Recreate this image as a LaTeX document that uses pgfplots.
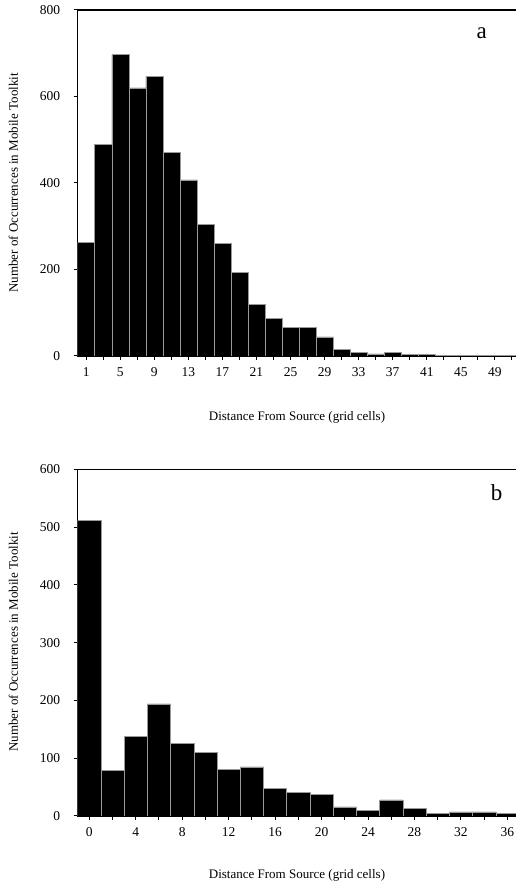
\documentclass[border=0pt]{standalone}
\usepackage{fontspec}
\setmainfont{Liberation Serif}
\usepackage{pgfplots}
\pgfplotsset{compat=1.18}
\pgfplotsset{
  histo/.style={
    scale only axis,
    anchor=south west,
    width=439.3pt,
    ymin=0,
    ybar,
    bar width=2,
    bar shift=0pt,
    axis line style={line width=1.4pt},
    tick align=outside,
    xtick pos=bottom,
    ytick pos=left,
    major tick length=4pt,
    minor tick length=4pt,
    tick style={black, line width=1pt},
    minor tick style={black, line width=1pt},
    /pgf/number format/assume math mode=true,
    /pgf/number format/1000 sep={},
    tick label style={font=\fontsize{13.5}{15}\selectfont},
    xticklabel style={yshift=-4pt},
    yticklabel style={xshift=-10pt},
    clip=true,
  },
  histbar/.style={fill=black, draw=black!40, line width=0.5pt},
}
\begin{document}
\begin{tikzpicture}[x=1pt,y=1pt]
\useasboundingbox (0,0) rectangle (516,886);
% Panel a
\begin{axis}[histo,
  at={(77.7pt,530pt)}, height=346pt,
  xmin=0, xmax=51.6, ymax=800,
  ytick={0,200,400,600,800},
  xtick={1,5,...,49},
  minor xtick={3,7,...,51},
]
\addplot[histbar] coordinates {
(1,262) (3,489) (5,697) (7,620) (9,647) (11,471) (13,407) (15,304)
(17,261) (19,193) (21,119) (23,87) (25,66) (27,66) (29,44) (31,16)
(33,8) (35,5) (37,8) (39,3) (41,3) (43,1.5) (45,1) (47,1) (49,1) (51,1)
};
\end{axis}
% Panel b
\begin{axis}[histo,
  at={(77.7pt,70pt)}, height=346.5pt,
  xmin=-1, xmax=36.83, ymax=600,
  ytick={0,100,200,300,400,500,600},
  xtick={0,4,...,36},
  minor xtick={2,6,...,34},
]
\addplot[histbar] coordinates {
(0,512) (2,79) (4,138) (6,194) (8,126) (10,110) (12,81) (14,85)
(16,48) (18,41) (20,38) (22,16) (24,10) (26,28) (28,13) (30,5)
(32,7) (34,7) (36,5)
};
\end{axis}
% labels
\node[anchor=base, font=\fontsize{13}{15}\selectfont] at (297,465) {Distance From Source (grid cells)};
\node[anchor=base, font=\fontsize{13}{15}\selectfont] at (297,7) {Distance From Source (grid cells)};
\node[rotate=90, font=\fontsize{13}{15}\selectfont] at (13.3,703) {Number of Occurrences in Mobile Toolkit};
\node[rotate=90, font=\fontsize{13}{15}\selectfont] at (13.3,244) {Number of Occurrences in Mobile Toolkit};
\node[font=\fontsize{23}{26}\selectfont] at (481.7,853) {a};
\node[font=\fontsize{23}{26}\selectfont] at (496.7,393) {b};
\end{tikzpicture}
\end{document}
